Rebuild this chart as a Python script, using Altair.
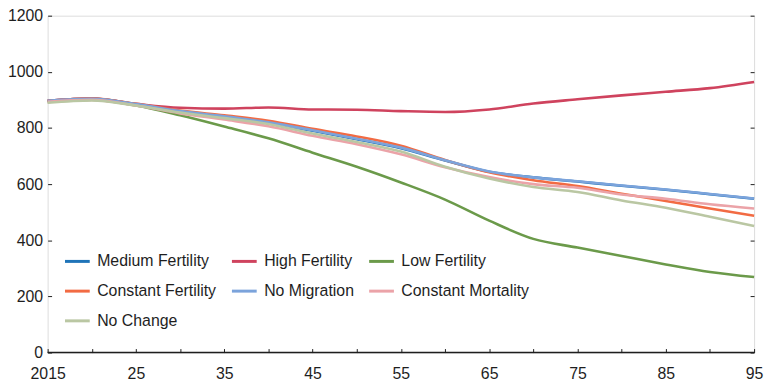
import altair as alt
import pandas as pd

FONT = "Liberation Sans"
TEXT = "#1e1e1e"

years = list(range(2015, 2096, 5))
series_names = ["Medium Fertility", "High Fertility", "Low Fertility",
                "Constant Fertility", "No Migration", "Constant Mortality", "No Change"]
series_colors = ["#1f74b8", "#cf435e", "#6b9a4a", "#f26b43", "#7ba3db", "#eba3a8", "#bac7a3"]

medium = [897, 905, 884, 858, 840, 818, 790, 760, 728, 684, 644, 624, 609, 594, 580, 564, 548]
high = [897, 905, 886, 872, 869, 873, 866, 865, 860, 857, 866, 887, 902, 916, 929, 942, 964]
low = [893, 901, 880, 845, 805, 763, 712, 662, 606, 545, 470, 405, 374, 344, 314, 287, 269]
constant_fert = [897, 905, 886, 862, 845, 826, 797, 770, 737, 686, 642, 614, 593, 566, 540, 513, 487]
no_migration = [897, 904, 885, 860, 842, 820, 792, 762, 730, 685, 645, 624, 610, 595, 581, 565, 549]
constant_mort = [893, 900, 880, 852, 830, 806, 772, 742, 706, 660, 625, 600, 587, 563, 548, 528, 513]
no_change = [890, 898, 880, 855, 835, 814, 780, 750, 716, 662, 620, 590, 572, 542, 516, 484, 451]

y_ticks = [0, 200, 400, 600, 800, 1000, 1200]

all_values = [medium, high, low, constant_fert, no_migration, constant_mort, no_change]
rows = []
for i, (name, vals) in enumerate(zip(series_names, all_values)):
    for yr, v in zip(years, vals):
        rows.append({"year": yr, "value": v, "series": name, "order": i})
df = pd.DataFrame(rows)

rule_df = pd.DataFrame({"x0": [years[0]], "x1": [years[-1]], "y0": [y_ticks[0]]})

x_scale = alt.Scale(domain=[years[0], years[-1]], nice=False, zero=False)
y_scale = alt.Scale(domain=[y_ticks[0], y_ticks[-1]], nice=False)

x_axis = alt.Axis(
    values=years, title=None, domain=False, grid=False,
    offset=-4, tickSize=4, tickColor=TEXT, tickWidth=1,
    labelExpr="datum.value == 2015 ? '2015' : (datum.value % 10 == 5 ? substring(toString(datum.value), 2) : '')",
    labelPadding=13, labelFlush=False, labelOverlap=False,
    labelFont=FONT, labelFontSize=16, labelColor=TEXT,
)
y_axis_left = alt.Axis(
    orient="left", values=y_ticks, format="d", title=None, domain=False, grid=False,
    offset=-4, tickSize=4, tickColor=TEXT, tickWidth=1,
    labelPadding=5, labelFont=FONT, labelFontSize=16, labelColor=TEXT,
)
y_axis_right = alt.Axis(
    orient="right", values=y_ticks, title=None, domain=False, grid=False,
    offset=-4, tickSize=4, tickColor=TEXT, tickWidth=1, labels=False,
)

legend = alt.Legend(
    title=None, orient="none", legendX=16, legendY=234, columns=3,
    columnPadding=8.5, rowPadding=8, symbolType="stroke", symbolSize=625,
    symbolStrokeWidth=3, labelFont=FONT, labelFontSize=16, labelColor=TEXT,
    labelOffset=6, padding=0, direction="horizontal",
)

color = alt.Color("series:N", scale=alt.Scale(domain=series_names, range=series_colors),
                  sort=series_names, legend=legend)

line_layers = []
for name in series_names:
    line_layers.append(
        alt.Chart(df).transform_filter(alt.datum.series == name)
        .mark_line(strokeWidth=2.6, interpolate="monotone")
        .encode(
            x=alt.X("year:Q", scale=x_scale, axis=x_axis),
            y=alt.Y("value:Q", scale=y_scale, axis=y_axis_left),
            color=color,
        )
    )
lines = alt.layer(*line_layers)

baseline = alt.Chart(rule_df).mark_rule(color=TEXT, strokeWidth=1.5).encode(
    x=alt.X("x0:Q", scale=x_scale, axis=x_axis),
    x2="x1",
    y=alt.Y("y0:Q", scale=y_scale, axis=y_axis_right),
)

chart = (
    alt.layer(lines, baseline)
    .resolve_axis(y="independent")
    .properties(
        width=713, height=340,
        autosize=alt.AutoSizeParams(type="none"),
        padding={"left": 40, "top": 6, "right": 10, "bottom": 32},
    )
    .configure_view(stroke=None)
    .configure(background="white")
)

chart.save("out.html", embed_options={"renderer": "svg", "actions": False})
